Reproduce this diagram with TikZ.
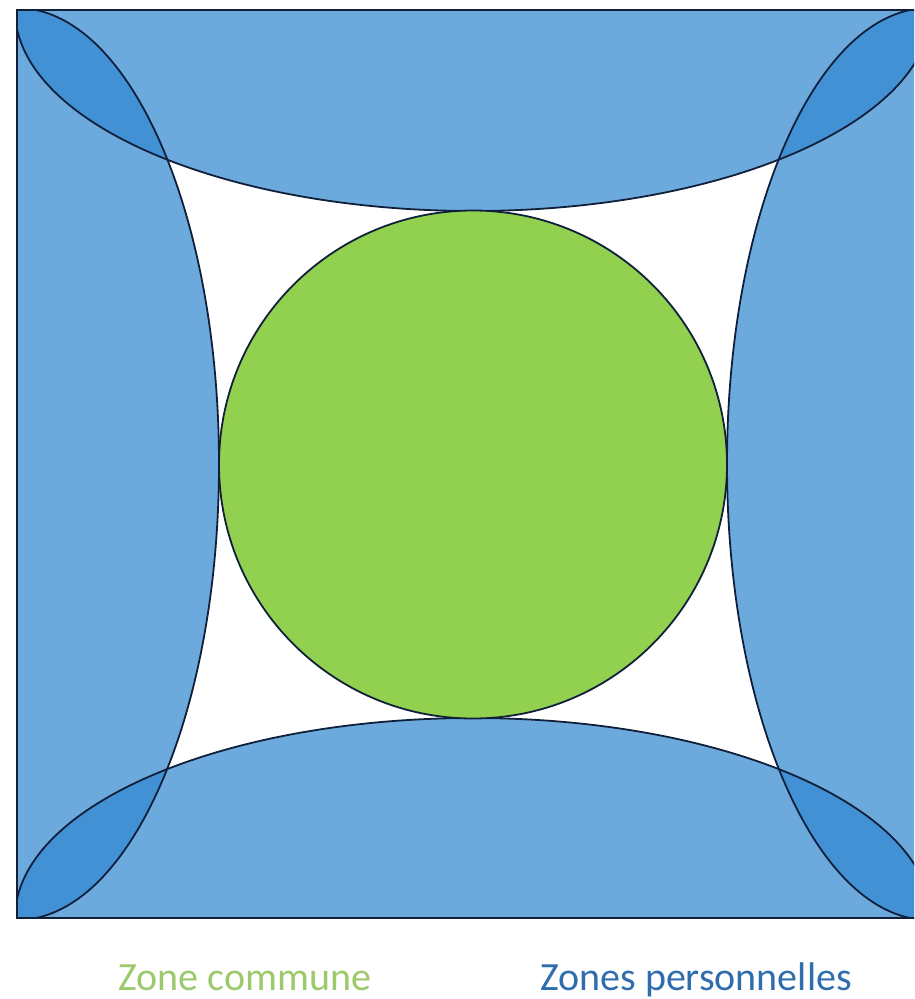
\documentclass[tikz,border=0pt]{standalone}
\usepackage{fontspec}
\setmainfont{Carlito}
\definecolor{zoneblue}{HTML}{2E86D0}
\definecolor{zonegreen}{HTML}{92D050}
\definecolor{edgecol}{HTML}{10203A}
\definecolor{txtgreen}{HTML}{9CC96C}
\definecolor{txtblue}{HTML}{2F6DAD}
\tikzset{
  persofill/.style={fill=zoneblue, fill opacity=0.7},
  persoline/.style={draw=edgecol, line width=1.8pt},
  commune/.style={fill=zonegreen, draw=edgecol, line width=1.8pt},
  cadre/.style={draw=edgecol, line width=2.2pt},
  legende/.style={font=\fontsize{40}{44}\selectfont, anchor=base west, inner sep=0pt}
}
\begin{document}
\begin{tikzpicture}[x=1pt,y=-1pt]
\path[use as bounding box, clip] (0,0) rectangle (914,999);
\begin{scope}
  \clip (17,10) rectangle (929,918);
  \path[persofill] (473,10) ellipse [x radius=458pt, y radius=201pt];
  \path[persofill] (473,918) ellipse [x radius=458pt, y radius=200pt];
  \path[persofill] (17,464) ellipse [x radius=202pt, y radius=456pt];
  \path[persofill] (929,464) ellipse [x radius=202pt, y radius=456pt];
  \path[persoline] (473,10) ellipse [x radius=458pt, y radius=201pt];
  \path[persoline] (473,918) ellipse [x radius=458pt, y radius=200pt];
  \path[persoline] (17,464) ellipse [x radius=202pt, y radius=456pt];
  \path[persoline] (929,464) ellipse [x radius=202pt, y radius=456pt];
\end{scope}
\path[commune] (473,464.5) circle [radius=254pt];
\path[cadre] (17,10) rectangle (929,918);
\node[legende, text=txtgreen] (zc) at (118,990) {Zone commune};
\node[legende, text=txtblue] (zp) at (540,990) {Zones personnelles};
\end{tikzpicture}
\end{document}
